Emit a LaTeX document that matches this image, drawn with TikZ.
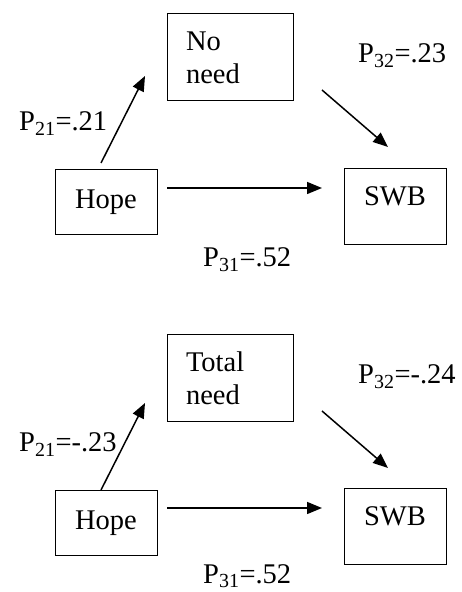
\documentclass[tikz,border=0pt]{standalone}
\usepackage{fontspec}
\setmainfont{Liberation Serif}
\newfontfamily\timesfont{Liberation Serif}
\usetikzlibrary{arrows.meta}

\begin{document}
\begin{tikzpicture}[x=1pt, y=1pt, font=\timesfont\fontsize{28.5}{33}\selectfont,
  box/.style={rectangle, draw, line width=1pt, inner sep=0pt},
  link/.style={-{Triangle[length=15pt, width=12pt]}, line width=1.5pt},
  coef/.style={anchor=base west, inner sep=0pt}]
  \useasboundingbox (0,0) rectangle (462,592);
  % upper model
  \node[box, minimum width=102pt, minimum height=65pt] (hope1) at (106,389.5) {Hope};
  \node[box, minimum width=102pt, minimum height=76pt, text depth=21pt, right of=hope1, node distance=289pt, yshift=-4.5pt] (swb1) {SWB};
  \node[box, text width=88pt, inner xsep=19pt, minimum height=87pt, align=left] (noneed) at (230,534.5) {No\\need};
  \node[coordinate] (a1) at (101,429) {};
  \node[coordinate] (b1) at (145,516) {};
  \node[coordinate] (c1) at (322,502) {};
  \node[coordinate] (d1) at (388,445) {};
  \node[coordinate] (e1) at (167,404) {};
  \node[coordinate] (f1) at (322,404) {};
  \draw[link] (a1) -- (b1);
  \draw[link] (c1) -- (d1);
  \draw[link] (e1) -- (f1);
  \node[coef] (p21a) at (19,461) {P\textsubscript{21}=.21};
  \node[coef] (p32a) at (358,529) {P\textsubscript{32}=.23};
  \node[coef] (p31a) at (203,325) {P\textsubscript{31}=.52};
  % lower model
  \node[box, minimum width=102pt, minimum height=65pt] (hope2) at (106,69) {Hope};
  \node[box, minimum width=102pt, minimum height=76pt, text depth=21pt, right of=hope2, node distance=289pt, yshift=-4pt] (swb2) {SWB};
  \node[box, text width=88pt, inner xsep=19pt, minimum height=87pt, align=left] (totneed) at (230,213.5) {Total\\need};
  \node[coordinate] (a2) at (101,102) {};
  \node[coordinate] (b2) at (145,189) {};
  \node[coordinate] (c2) at (322,181) {};
  \node[coordinate] (d2) at (388,124) {};
  \node[coordinate] (e2) at (167,84) {};
  \node[coordinate] (f2) at (322,84) {};
  \draw[link] (a2) -- (b2);
  \draw[link] (c2) -- (d2);
  \draw[link] (e2) -- (f2);
  \node[coef] (p21b) at (19,140) {P\textsubscript{21}=-.23};
  \node[coef] (p32b) at (358,208) {P\textsubscript{32}=-.24};
  \node[coef] (p31b) at (203,9) {P\textsubscript{31}=.52};
\end{tikzpicture}
\end{document}
